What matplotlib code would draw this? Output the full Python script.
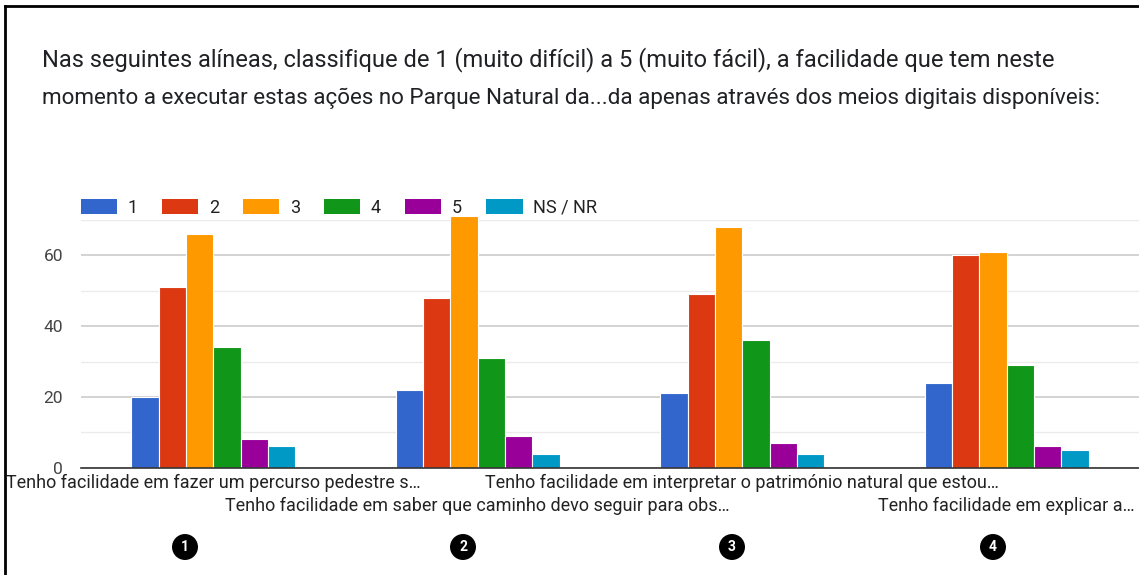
import matplotlib
matplotlib.use("Agg")
import matplotlib.pyplot as plt
import matplotlib.transforms as mtransforms
import numpy as np
from matplotlib.patches import Patch
from matplotlib.lines import Line2D

plt.rcParams['font.family'] = ['Roboto', 'DejaVu Sans']

title_lines = [
    "Nas seguintes alíneas, classifique de 1 (muito difícil) a 5 (muito fácil), a facilidade que tem neste",
    "momento a executar estas ações no Parque Natural da...da apenas através dos meios digitais disponíveis:",
]
categories = [
    "Tenho facilidade em fazer um percurso pedestre s…",
    "Tenho facilidade em saber que caminho devo seguir para obs…",
    "Tenho facilidade em interpretar o património natural que estou…",
    "Tenho facilidade em explicar a…",
]
markers = ["1", "2", "3", "4"]
series_names = ["1", "2", "3", "4", "5", "NS / NR"]
values = {
    "1": [20, 22, 21, 24],
    "2": [51, 48, 49, 60],
    "3": [66, 71, 68, 61],
    "4": [34, 31, 36, 29],
    "5": [8, 9, 7, 6],
    "NS / NR": [6, 4, 4, 5],
}
colors = ["#3366cc", "#dc3912", "#ff9900", "#109618", "#990099", "#0099c6"]
yticks = [0, 20, 40, 60]

W, H = 1139, 575
fig = plt.figure(figsize=(W / 100, H / 100), dpi=100)
fig.patch.set_facecolor("white")

def fx(px):
    return px / W

def fy(py):
    return 1 - py / H

ax = fig.add_axes([fx(81), fy(467.7), 1 - fx(81), fy(220) - fy(467.7)])

n = len(series_names)
group_w = 0.62
bw = group_w / n
x = np.arange(len(categories))
for i, (name, c) in enumerate(zip(series_names, colors)):
    off = -group_w / 2 + bw * (i + 0.5)
    ax.bar(x + off, values[name], width=bw, color=c, edgecolor="white",
           linewidth=0.8, clip_on=False, zorder=3)

ax.set_xlim(-0.5, len(categories) - 0.5)
ax.set_ylim(0, 70)
ax.set_yticks(yticks)
ax.set_yticks([10, 30, 50, 70], minor=True)
ax.yaxis.grid(True, which="major", color="#cccccc", linewidth=1.2, zorder=0)
ax.yaxis.grid(True, which="minor", color="#ebebeb", linewidth=1.0, zorder=0)
ax.tick_params(axis="y", which="both", length=0, pad=13, labelsize=12.5,
               labelcolor="#444444")
ax.set_xticks([])
for s in ["top", "right", "left"]:
    ax.spines[s].set_visible(False)
ax.spines["bottom"].set_color("#333333")
ax.spines["bottom"].set_linewidth(1.2)
ax.spines["bottom"].set_zorder(4)

# category labels staggered
trans = mtransforms.blended_transform_factory(ax.transData, fig.transFigure)
for i, lab in enumerate(categories):
    ypx = 483 if i % 2 == 0 else 506
    ax.text(i, fy(ypx), lab, transform=trans, ha="center", va="center",
            fontsize=13, color="#222222")

# numbered markers
marker_x = [185, 463, 732, 993]
for mx, m in zip(marker_x, markers):
    fig.text(fx(mx), fy(547), m, ha="center", va="center", fontsize=10,
             fontweight="bold", color="white",
             bbox=dict(boxstyle="circle,pad=0.38", fc="black", ec="black"))

# legend
handles = [Patch(facecolor=c, edgecolor="none") for c in colors]
leg = fig.legend(handles, series_names, loc="center left",
                 bbox_to_anchor=(fx(81), fy(208)), ncol=6, frameon=False,
                 fontsize=13, handlelength=2.0, handleheight=0.92,
                 handletextpad=0.58, columnspacing=1.35, borderaxespad=0,
                 borderpad=0)
for t in leg.get_texts():
    t.set_color("#222222")

# title
fig.text(fx(42), fy(60), title_lines[0], ha="left", va="center",
         fontsize=17.0, color="#202124")
fig.text(fx(42), fy(98), title_lines[1], ha="left", va="center",
         fontsize=16.1, color="#202124")

# frame lines
fig.add_artist(Line2D([fx(5), fx(5)], [0, fy(6)], color="black", linewidth=2,
                      transform=fig.transFigure))
fig.add_artist(Line2D([fx(5), 1], [fy(6), fy(6)], color="black", linewidth=2,
                      transform=fig.transFigure))

fig.savefig("out.png", dpi=100)
